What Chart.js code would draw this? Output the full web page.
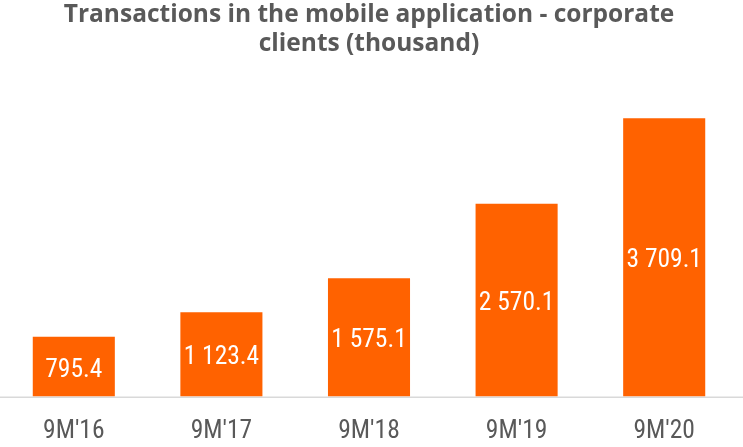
<!DOCTYPE html>
<html><head><meta charset="utf-8">
<script src="https://cdn.jsdelivr.net/npm/chart.js@4.4.1/dist/chart.umd.min.js"></script>
<style>html,body{margin:0;padding:0;background:#fff}#wrap{width:743px;height:447px}</style>
</head>
<body>
<div id="wrap"><canvas id="c" width="743" height="447"></canvas></div>
<script>
const titleLines = ["Transactions in the mobile application - corporate", "clients (thousand)"];
const categories = ["9M'16", "9M'17", "9M'18", "9M'19", "9M'20"];
const transactions = [795.4, 1123.4, 1575.1, 2570.1, 3709.1];

const ORANGE = '#FF6200';
const GREY = '#595959';

function fmt(v) {
  const parts = v.toFixed(1).split('.');
  parts[0] = parts[0].replace(/\B(?=(\d{3})+(?!\d))/g, ' ');
  return parts.join('.');
}

const labelPlugin = {
  id: 'barLabels',
  beforeDatasetsDraw(chart) {
    const ctx = chart.ctx;
    const y = chart.scales.y.getPixelForValue(0);
    ctx.save();
    ctx.strokeStyle = '#d9d9d9';
    ctx.lineWidth = 1.5;
    ctx.beginPath();
    ctx.moveTo(0, y + 0.75);
    ctx.lineTo(chart.width, y + 0.75);
    ctx.stroke();
    ctx.restore();
  },
  afterDatasetsDraw(chart) {
    const ctx = chart.ctx;
    const meta = chart.getDatasetMeta(0);
    ctx.save();
    ctx.font = "25.5px 'Roboto Condensed'";
    ctx.fillStyle = '#ffffff';
    ctx.textAlign = 'center';
    ctx.textBaseline = 'alphabetic';
    meta.data.forEach((bar, i) => {
      const mid = (bar.y + bar.base) / 2;
      ctx.fillText(fmt(transactions[i]), bar.x, mid + 10);
    });
    ctx.restore();
  }
};

new Chart(document.getElementById('c'), {
  type: 'bar',
  data: {
    labels: categories,
    datasets: [{
      data: transactions,
      backgroundColor: ORANGE,
      borderWidth: 0,
      barPercentage: 0.556,
      categoryPercentage: 1.0
    }]
  },
  options: {
    responsive: false,
    animation: false,
    events: [],
    layout: { padding: { left: 0, right: 5, top: 0, bottom: -20 } },
    plugins: {
      legend: { display: false },
      tooltip: { enabled: false },
      title: {
        display: true,
        text: titleLines,
        color: GREY,
        font: { family: "'Open Sans'", size: 24.5, weight: 'bold', lineHeight: 1.2 },
        padding: { top: 0, bottom: 37.7 }
      }
    },
    scales: {
      x: {
        grid: { display: false, drawTicks: false },
        border: { display: false },
        ticks: {
          color: GREY,
          font: { family: "'Roboto Condensed'", size: 25.5, lineHeight: 1.2 },
          padding: 20,
          maxRotation: 0
        }
      },
      y: {
        display: false,
        min: 0,
        max: 4000
      }
    }
  },
  plugins: [labelPlugin]
});
</script>
</body></html>
